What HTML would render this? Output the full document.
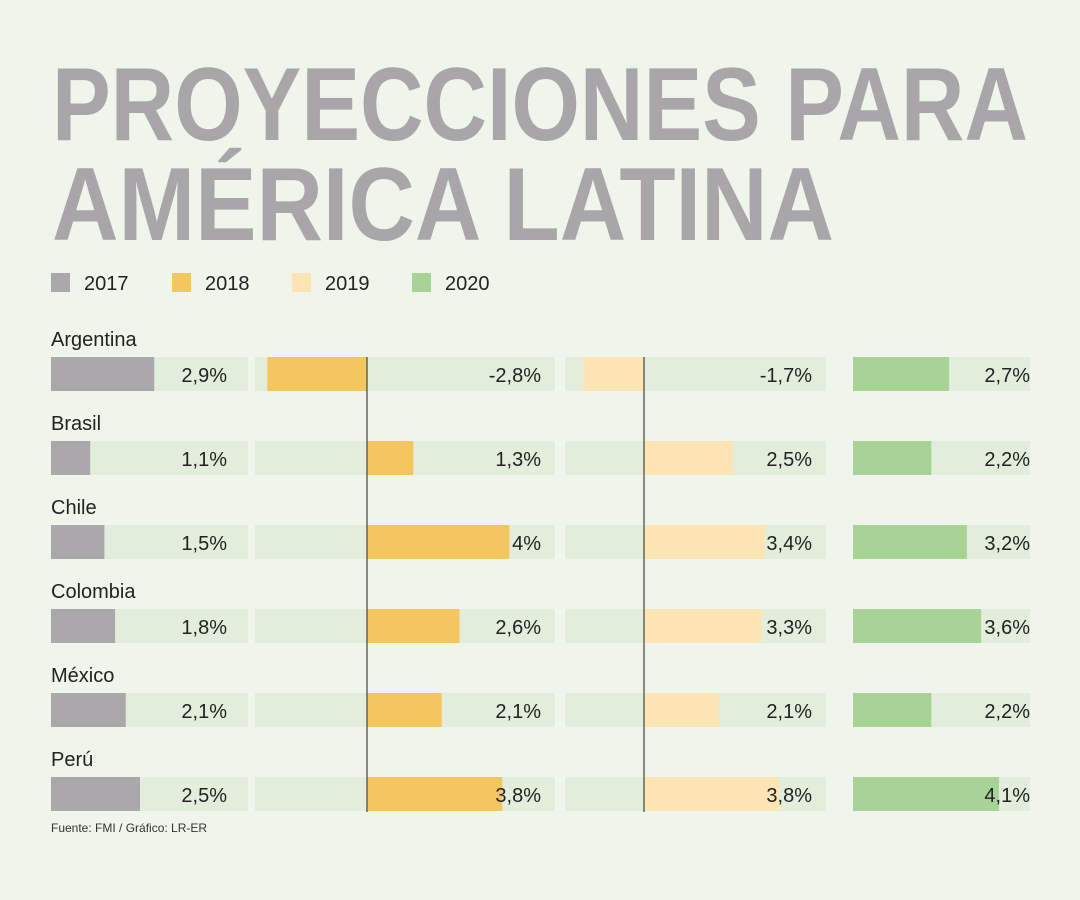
<!DOCTYPE html>
<html><head><meta charset="utf-8"><style>
html,body{margin:0;padding:0;background:#f0f5eb;}
svg{display:block;font-family:"Liberation Sans",sans-serif;}
</style></head><body>
<svg id="chart" width="1080" height="900" viewBox="0 0 1080 900">
<rect width="1080" height="900" fill="#f0f5eb"/>
<text x="52" y="140" font-size="104" font-weight="bold" fill="#a9a6a9" textLength="976" lengthAdjust="spacingAndGlyphs">PROYECCIONES PARA</text>
<text x="52" y="240" font-size="104" font-weight="bold" fill="#a9a6a9" textLength="782" lengthAdjust="spacingAndGlyphs">AMÉRICA LATINA</text>
<g id="legend"></g>
<g id="bars"></g>
<text x="51" y="832" font-size="12" fill="#333">Fuente: FMI / Gráfico: LR-ER</text>
</svg>
<script>
const countries = ["Argentina","Brasil","Chile","Colombia","México","Perú"];
const years = ["2017","2018","2019","2020"];
const v2017 = [2.9,1.1,1.5,1.8,2.1,2.5];
const v2018 = [-2.8,1.3,4,2.6,2.1,3.8];
const v2019 = [-1.7,2.5,3.4,3.3,2.1,3.8];
const v2020 = [2.7,2.2,3.2,3.6,2.2,4.1];
const series=[v2017,v2018,v2019,v2020];
const colors=["#aba8ab","#f3c65f","#fce4b4","#a8d397"];
const panels=[{x0:51,x1:248,zero:51,lab:227},{x0:255,x1:555,zero:367,lab:541},{x0:565,x1:826,zero:644,lab:812},{x0:853,x1:1030,zero:853,lab:1030}];
const scale=35.6;
const NS="http://www.w3.org/2000/svg";
function mk(t,a,p){const e=document.createElementNS(NS,t);for(const k in a)e.setAttribute(k,a[k]);p.appendChild(e);return e;}
function xv(p,v){return p.zero+v*scale;}
const lg=document.getElementById('legend');
const lx=[51,172,292,412];
years.forEach((y,i)=>{
 const r=mk('rect',{x:lx[i],y:273,width:19,height:19,fill:colors[i]},lg);
 
 
 const t=mk('text',{x:lx[i]+33,y:290,'font-size':20,fill:'#222'},lg);
 t.textContent=y;
 
 
});
const g=document.getElementById('bars');
countries.forEach((c,r)=>{
 const y=357+r*84;
 const t=mk('text',{x:51,y:y-11,'font-size':20,fill:'#222'},g);
 t.textContent=c;
 
 
 panels.forEach((p,i)=>{
  const tr=mk('rect',{x:p.x0,y:y,width:p.x1-p.x0,height:34,fill:'#e2eedb'},g);
  
  
  const v=series[i][r];
  const a=xv(p,0),b=xv(p,v);
  const br=mk('rect',{x:Math.min(a,b),y:y,width:Math.abs(b-a),height:34,fill:colors[i]},g);
  
  
  const tv=mk('text',{x:p.lab,y:y+25,'font-size':20,fill:'#222','text-anchor':'end'},g);
  tv.textContent=String(v).replace('.',',').replace('-','-')+'%';
  
  
 });
});
[1,2].forEach(i=>{
 const p=panels[i];
 const l=mk('line',{x1:p.zero,x2:p.zero,y1:357,y2:812,stroke:'#444','stroke-width':1.2},g);
 
 
});
</script>
</body></html>
